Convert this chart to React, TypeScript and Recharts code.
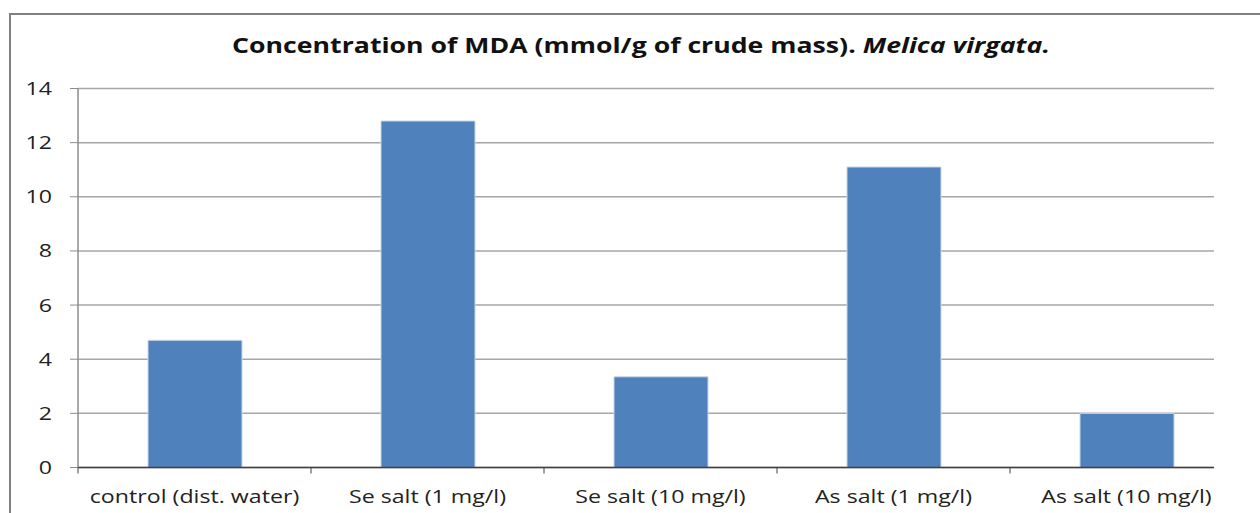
import { BarChart, Bar, XAxis, YAxis, CartesianGrid } from "recharts";

const categories = [
  "control (dist. water)",
  "Se salt (1 mg/l)",
  "Se salt (10 mg/l)",
  "As salt (1 mg/l)",
  "As salt (10 mg/l)",
];
const mdaValues = [4.7, 12.8, 3.35, 11.1, 2.0];
const yTicks = [0, 2, 4, 6, 8, 10, 12, 14];

const data = categories.map((name, i) => ({ name, value: mdaValues[i] }));

const FONT = "'Open Sans', 'Liberation Sans', sans-serif";
const BAND = 233;
const STRETCH = 1.22; // the source picture is a bit wider than tall

// category tick: label centred, tick mark at left band boundary
function CategoryTick(props: any) {
  const { x, y, payload } = props;
  const bx = x - BAND / 2;
  return (
    <g>
      <line x1={bx} y1={y - 8} x2={bx} y2={y - 2} stroke="#404040" strokeWidth={1} />
      <text
        transform={`translate(${x},${y + 27}) scale(${STRETCH},1)`}
        textAnchor="middle"
        fontSize={19}
        fontFamily={FONT}
        fill="#222"
      >
        {payload.value}
      </text>
    </g>
  );
}

function ValueTick(props: any) {
  const { x, y, payload } = props;
  return (
    <text
      transform={`translate(${x - 8},${y + 6.5}) scale(${STRETCH},1)`}
      textAnchor="end"
      fontSize={19}
      fontFamily={FONT}
      fill="#222"
    >
      {payload.value}
    </text>
  );
}

export default function App() {
  return (
    <div
      style={{
        position: "absolute",
        left: 0,
        top: 0,
        width: 1260,
        height: 513,
        background: "#fff",
        overflow: "hidden",
      }}
    >
      {/* frame */}
      <div
        style={{
          position: "absolute",
          left: 9,
          top: 13,
          width: 1260,
          height: 520,
          borderTop: "2px solid #808080",
          borderLeft: "2px solid #808080",
        }}
      />
      <div
        style={{
          position: "absolute",
          left: 0,
          top: 31,
          width: 1282,
          textAlign: "center",
          fontFamily: FONT,
          fontWeight: 700,
          fontSize: 21,
          color: "#111",
        }}
      >
        <span style={{ display: "inline-block", transform: "scaleX(1.27)" }}>
          Concentration of MDA (mmol/g of crude mass). <i>Melica virgata.</i>
        </span>
      </div>
      <div style={{ position: "absolute", left: 0, top: 0 }}>
        <BarChart
          width={1260}
          height={513}
          data={data}
          margin={{ top: 88.5, right: 46, bottom: 0, left: 18 }}
        >
          <CartesianGrid vertical={false} stroke="#a6a6a6" strokeWidth={1.5} />
          <XAxis
            dataKey="name"
            height={45.5}
            padding={{ left: 0, right: -29 }}
            axisLine={{ stroke: "#404040", strokeWidth: 1.5 }}
            tickLine={false}
            interval={0}
            tick={<CategoryTick />}
          />
          <YAxis
            width={60}
            domain={[0, 14]}
            ticks={yTicks}
            axisLine={{ stroke: "#8c8c8c", strokeWidth: 1.5 }}
            tickLine={{ stroke: "#8c8c8c" }}
            tickSize={8}
            tickMargin={10}
            tick={<ValueTick />}
          />
          <Bar
            dataKey="value"
            fill="#4f81bd"
            stroke="#c9d6ea"
            strokeWidth={1}
            barSize={94}
            isAnimationActive={false}
          />
        </BarChart>
      </div>
    </div>
  );
}
